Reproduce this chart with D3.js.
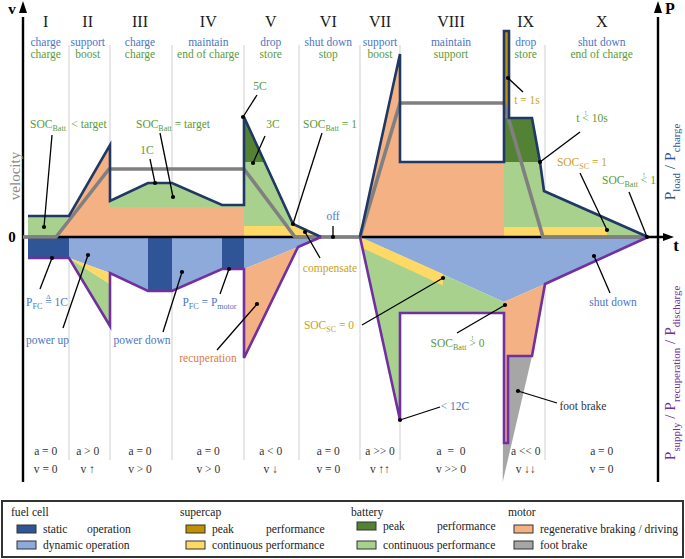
<!DOCTYPE html>
<html><head><meta charset="utf-8">
<script src="https://cdn.jsdelivr.net/npm/d3@7"></script>
<style>
html,body{margin:0;padding:0;background:#fff}
svg{display:block;font-family:"Liberation Serif","DejaVu Serif","Times New Roman",serif}
svg text{font-family:"Liberation Serif","DejaVu Serif","Times New Roman",serif}
</style>
</head><body>
<svg id="c" width="685" height="559" font-family="Liberation Serif, DejaVu Serif, serif"></svg>
<script>
// ---------------- data (time t, power p in arbitrary units) ----------------
const phases = ["I","II","III","IV","V","VI","VII","VIII","IX","X"];
const phaseCenter = [2.27,6.47,11.7,18.53,24.77,30.53,35.7,42.8,50.27,57.87];
const fuelCellMode = ["charge","support","charge","maintain","drop","shut down","support","maintain","drop","shut down"];
const storageMode = ["charge","boost","charge","end of charge","store","stop","boost","support","store","end of charge"];
const acceleration = ["a = 0","a > 0","a = 0","a = 0","a < 0","a = 0","a >> 0","a  =  0","a << 0","a = 0"];
const velocityState = ["v = 0","v \u2191","v > 0","v > 0","v \u2193","v = 0","v \u2191\u2191","v >> 0","v \u2193\u2193","v = 0"];
const phaseBounds = [4.6,8.7,14.9,22.1,27.6,33.7,37.7,52.2];

const velocity = [[0,0],[3.3,0],[8.6,6.8],[22.1,6.8],[27.2,0],[33.7,0],[37.7,13.4],[48.1,13.4],[52.0,0],[62.5,0]];
const loadLine1 = [[0.5,2.1],[4.6,2.1],[8.7,9.2],[8.7,3.6],[12.5,5.4],[14.9,5.4],[19.9,3.2],[22.1,3.2],[22.1,12.0],[27.0,1.3],[29.8,0]];
const loadLine2 = [[33.7,0],[37.7,18.3],[37.7,7.5],[48.1,7.5],[48.1,20.6],[48.6,20.6],[48.6,11.9],[50.9,11.9],[51.7,7.5],[52.1,4.6],[62.5,0]];
const supplyLine1 = [[0.5,-2.1],[4.6,-2.1],[8.7,-8.9],[8.7,-3.6],[12.5,-5.4],[14.9,-5.4],[19.9,-3.2],[22.1,-3.2],[22.1,-12.1],[27.5,-1.0],[29.8,0]];
const supplyLine2 = [[33.7,0],[37.7,-18.3],[37.7,-7.6],[48.1,-7.6],[48.1,-20.6],[48.5,-20.6],[48.5,-11.9],[50.9,-11.9],[52.2,-4.7],[62.5,0]];

const motorDriving = [
  [[3.3,0],[4.6,2.1],[8.7,9.2],[8.7,3.0],[22.1,3.0],[22.1,0]],
  [[33.7,0],[37.7,18.3],[37.7,7.5],[48.1,7.5],[48.1,0]]
];
const batteryContUpper = [
  [[0.5,0],[0.5,2.1],[4.6,2.1],[3.3,0]],
  [[8.7,3.0],[8.7,3.6],[12.5,5.4],[14.9,5.4],[19.9,3.2],[22.1,3.2],[22.1,3.0]],
  [[22.1,1.1],[22.1,7.5],[24.2,7.5],[27.0,1.3],[27.4,1.1]],
  [[48.1,1.0],[48.1,7.5],[51.7,7.5],[52.1,4.6],[62.5,0],[58.4,0],[58.4,1.0]]
];
const batteryPeakUpper = [
  [[22.1,7.5],[22.1,12.0],[24.2,7.5]],
  [[48.1,7.5],[48.1,11.9],[50.9,11.9],[51.7,7.5]]
];
const supercapContUpper = [
  [[22.1,0],[22.1,1.1],[27.4,1.1],[29.8,0]],
  [[48.1,0],[48.1,1.0],[58.4,1.0],[58.4,0]]
];
const supercapPeakUpper = [
  [[48.1,11.9],[48.1,20.6],[48.6,20.6],[48.6,11.9]]
];
const fuelDynamic = [
  [[4.6,0],[29.8,0],[27.5,-1.0],[22.1,-3.2],[19.9,-3.2],[14.9,-5.4],[12.5,-5.4],[8.7,-3.6],[4.6,-2.1]],
  [[33.7,0],[62.5,0],[52.2,-4.7],[48.1,-6.5]]
];
const fuelStatic = [
  [[0.5,0],[4.6,0],[4.6,-2.1],[0.5,-2.1]],
  [[12.5,0],[14.9,0],[14.9,-5.4],[12.5,-5.4]],
  [[19.9,0],[22.1,0],[22.1,-3.2],[19.9,-3.2]]
];
const batteryContLower = [
  [[4.6,-2.1],[8.7,-4.7],[8.7,-8.9]],
  [[33.7,0],[48.1,-6.5],[48.1,-7.6],[37.7,-7.6],[37.7,-18.3]]
];
const supercapContLower = [
  [[4.6,-2.1],[8.7,-3.6],[8.7,-4.7]],
  [[33.7,0],[42.0,-3.7],[42.0,-4.85],[33.95,-1.1]]
];
const footBrake = [
  [[48.5,-11.9],[50.9,-11.9],[47.97,-24.5],[48.0,-20.6],[48.5,-20.6]]
];
const motorRegen = [
  [[22.1,-3.2],[22.1,-12.1],[27.5,-1.0]],
  [[48.1,-6.5],[52.2,-4.7],[50.9,-11.9],[48.5,-11.9],[48.5,-20.6],[48.1,-20.6]]
];

const C = {
  fuelStatic:"#2f5597", fuelDynamic:"#8eaadb", scPeak:"#bf9000", scCont:"#ffd966",
  battPeak:"#548235", battCont:"#a9d18e", motor:"#f4b183", brake:"#a6a6a6",
  navy:"#1f3864", purple:"#7030a0", gray:"#808080",
  tBlue:"#4a76c6", tGreen:"#5b9a3a", tGold:"#c9a227", tOrange:"#e07b3c", tDark:"#333"
};

const notes = [
  {text:"SOC_{Batt}", color:C.tGreen, at:[2.5,11.3], from:[2.9,10.2], to:[2.1,1.0]},
  {text:"< target", color:C.tGreen, at:[6.6,11.3]},
  {text:"SOC_{Batt} = target", color:C.tGreen, at:[15.0,11.3], from:[13.7,10.4], to:[15.0,4.0]},
  {text:"1C", color:C.tGreen, at:[12.4,8.7], from:[12.7,7.8], to:[13.2,5.4]},
  {text:"5C", color:C.tGreen, at:[23.7,15.1], from:[23.4,14.2], to:[22.0,12.0]},
  {text:"3C", color:C.tGreen, at:[25.0,11.3], from:[24.2,10.1], to:[23.0,7.4]},
  {text:"SOC_{Batt} = 1", color:C.tGreen, at:[30.7,11.3], from:[29.9,10.4], to:[27.0,1.3]},
  {text:"off", color:C.tBlue, at:[31.0,2.1], from:[31.0,1.1], to:[31.0,0]},
  {text:"compensate", color:C.tGold, at:[30.7,-3.1], from:[29.7,-2.1], to:[28.2,0.5]},
  {text:"t = 1s", color:C.tGold, at:[50.4,13.7], from:[50.0,14.5], to:[48.5,15.9]},
  {text:"t [<|!] 10s", color:C.tGreen, at:[56.9,11.9], from:[55.7,10.5], to:[51.7,7.5]},
  {text:"SOC_{SC} = 1", color:C.tGold, at:[55.9,7.5], from:[55.7,6.4], to:[58.4,0.7]},
  {text:"SOC_{Batt} [<|!] 1", color:C.tGreen, at:[60.6,5.7], from:[60.6,4.5], to:[62.4,0]},
  {text:"P_{FC} [=|\u0394] 1C", color:C.tBlue, at:[2.4,-6.5], from:[1.7,-5.2], to:[2.9,-2.1]},
  {text:"power up", color:C.tBlue, at:[2.45,-10.3], from:[4.0,-9.1], to:[6.5,-1.8]},
  {text:"power down", color:C.tBlue, at:[11.9,-10.3], from:[14.0,-9.5], to:[15.9,-3.5]},
  {text:"P_{FC} = P_{motor}", color:C.tBlue, at:[18.65,-6.5], from:[19.7,-5.7], to:[20.6,-3.2]},
  {text:"recuperation", color:C.tOrange, at:[18.5,-12.1], from:[19.4,-11.3], to:[23.4,-6.7]},
  {text:"SOC_{SC} = 0", color:C.tGold, at:[30.6,-8.8], from:[33.9,-8.8], to:[42.0,-4.1]},
  {text:"SOC_{Batt} [>|!] 0", color:C.tGreen, at:[43.45,-10.6], from:[43.4,-9.6], to:[48.2,-6.8]},
  {text:"< 12C", color:C.tBlue, at:[43.2,-16.9], from:[41.7,-17.0], to:[37.7,-18.3]},
  {text:"shut down", color:C.tBlue, at:[59.0,-6.5], from:[58.7,-5.6], to:[57.1,-1.9]},
  {text:"foot brake", color:C.tDark, at:[56.0,-16.9], from:[53.4,-16.6], to:[49.5,-15.4]}
];

const legendGroups = ["fuel cell","supercap","battery","motor"];
const legendRow1 = [["static","operation"],["peak","performance"],["peak","performance"],["regenerative braking / driving"]];
const legendRow2 = ["dynamic operation","continuous performance","continuous performance","foot brake"];
const legendColors1 = [C.fuelStatic, C.scPeak, C.battPeak, C.motor];
const legendColors2 = [C.fuelDynamic, C.scCont, C.battCont, C.brake];

// ---------------- drawing ----------------
const FONT = "Liberation Serif, DejaVu Serif, serif";
const svg = d3.select("#c");
const x = d3.scaleLinear().domain([0,63.4]).range([23,657]);
const y = d3.scaleLinear().domain([-30,23]).range([537,7]);
const line = d3.line().x(d=>x(d[0])).y(d=>y(d[1]));

const meas = svg.append("text").attr("x",-100).attr("y",-100).attr("font-family",FONT);
function width(str, size){ meas.attr("font-size",size).text(str); return meas.node().getComputedTextLength(); }

// rich text: _{sub} for subscripts, [c|m] for character c with mark m above it
function rich(sel, str, size){
  sel.attr("font-family",FONT);
  const parts = str.split(/(_\{[^}]*\}|\[[^|\]]+\|[^\]]+\])/).filter(s=>s.length);
  let shift = 0, pdx = 0, pdy = 0;
  const add = (txt, fs, dy) => {
    const ts = sel.append("tspan").text(txt).attr("dy", dy + pdy);
    if (pdx) ts.attr("dx", pdx);
    if (fs) ts.attr("font-size", fs);
    pdx = 0; pdy = 0;
    return ts;
  };
  parts.forEach(p=>{
    if (p.startsWith("_{")) {
      const s = size*0.3;
      add(p.slice(2,-1), size*0.7, s-shift);
      shift = s;
    } else if (p.startsWith("[")) {
      const [c,m] = p.slice(1,-1).split("|");
      add(c, null, -shift); shift = 0;
      const ms = size*0.62, cw = width(c,size), mw = width(m,ms), up = size*0.62;
      pdx = -cw/2-mw/2;
      add(m, ms, -up);
      pdx = cw/2-mw/2; pdy = up;
    } else {
      add(p, null, -shift); shift = 0;
    }
  });
}

// phase separators
svg.append("g").selectAll("line").data(phaseBounds).join("line")
  .attr("x1",d=>x(d)).attr("x2",d=>x(d)).attr("y1",y(19.2)).attr("y2",y(-22.3))
  .attr("stroke","#dadada").attr("stroke-width",1.3);

// fills
const fills = [
  [motorDriving,C.motor],[batteryContUpper,C.battCont],[batteryPeakUpper,C.battPeak],
  [supercapContUpper,C.scCont],[supercapPeakUpper,C.scPeak],
  [fuelDynamic,C.fuelDynamic],[fuelStatic,C.fuelStatic],[batteryContLower,C.battCont],
  [supercapContLower,C.scCont],[footBrake,C.brake],[motorRegen,C.motor]
];
const gf = svg.append("g");
fills.forEach(([polys,col])=>{
  gf.append("g").selectAll("path").data(polys).join("path")
    .attr("d",d=>line(d)+"Z").attr("fill",col).attr("stroke","none");
});

// axes
const ga = svg.append("g");
ga.append("line").attr("x1",x(0)).attr("x2",x(64.5)).attr("y1",y(0)).attr("y2",y(0)).attr("stroke","#000").attr("stroke-width",2.4);
ga.append("line").attr("x1",x(0)).attr("x2",x(0)).attr("y1",y(-24.5)).attr("y2",y(22)).attr("stroke","#000").attr("stroke-width",2.4);
ga.append("line").attr("x1",x(63.5)).attr("x2",x(63.5)).attr("y1",y(-24.5)).attr("y2",y(22)).attr("stroke","#000").attr("stroke-width",2.4);
[[x(0),y(23.5)],[x(63.5),y(23.5)]].forEach(([px,py])=>{
  ga.append("path").attr("d",`M${px},${py-1}L${px-4},${py+11}L${px+4},${py+11}Z`).attr("fill","#000");
});
{
  const px = x(65.1), py = y(0);
  ga.append("path").attr("d",`M${px},${py}L${px-11},${py-4}L${px-11},${py+4}Z`).attr("fill","#000");
}

// velocity line
svg.append("path").attr("d",line(velocity)).attr("fill","none").attr("stroke",C.gray)
  .attr("stroke-width",3.6).attr("stroke-linejoin","round");

// load / supply outlines
[[loadLine1,C.navy],[loadLine2,C.navy],[supplyLine1,C.purple],[supplyLine2,C.purple]].forEach(([pts,col])=>{
  svg.append("path").attr("d",line(pts)).attr("fill","none").attr("stroke",col)
    .attr("stroke-width",2.6).attr("stroke-linejoin","miter");
});

// annotations
const gn = svg.append("g");
notes.forEach(n=>{
  if (n.from) {
    gn.append("line").attr("x1",x(n.from[0])).attr("y1",y(n.from[1])).attr("x2",x(n.to[0])).attr("y2",y(n.to[1]))
      .attr("stroke","#000").attr("stroke-width",1.3);
    gn.append("circle").attr("cx",x(n.to[0])).attr("cy",y(n.to[1])).attr("r",2.1).attr("fill","#000");
  }
  const t = gn.append("text").attr("x",x(n.at[0])).attr("y",y(n.at[1])+4)
    .attr("text-anchor","middle").attr("font-size",11.5).attr("fill",n.color);
  rich(t, n.text, 11.5);
});

// phase labels
const gl = svg.append("g").attr("text-anchor","middle").attr("font-family",FONT);
gl.selectAll("text.r").data(phases).join("text").attr("class","r")
  .attr("x",(d,i)=>x(phaseCenter[i])).attr("y",y(21.05)).attr("font-size",16).attr("fill","#1a1a1a").text(d=>d);
gl.selectAll("text.f").data(fuelCellMode).join("text").attr("class","f")
  .attr("x",(d,i)=>x(phaseCenter[i])).attr("y",y(19.15)).attr("font-size",11.5).attr("fill",C.tBlue).text(d=>d);
gl.selectAll("text.s").data(storageMode).join("text").attr("class","s")
  .attr("x",(d,i)=>x(phaseCenter[i])).attr("y",y(17.9)).attr("font-size",11.5).attr("fill",C.tGreen).text(d=>d);
gl.selectAll("text.a").data(acceleration).join("text").attr("class","a")
  .attr("x",(d,i)=>x(phaseCenter[i])).attr("y",y(-21.8)).attr("font-size",11.5).attr("fill",C.tDark)
  .style("white-space","pre").text(d=>d);
gl.selectAll("text.v").data(velocityState).join("text").attr("class","v")
  .attr("x",(d,i)=>x(phaseCenter[i])).attr("y",y(-23.6)).attr("font-size",11.5).attr("fill",C.tDark)
  .style("white-space","pre").text(d=>d);

// axis labels
const gt = svg.append("g").attr("font-family",FONT).attr("text-anchor","middle").attr("font-weight","bold");
gt.append("text").attr("x",12).attr("y",14).attr("font-size",15).text("v");
gt.append("text").attr("x",670).attr("y",14).attr("font-size",16).text("P");
gt.append("text").attr("x",676).attr("y",251).attr("font-size",17).text("t");
gt.append("text").attr("x",12).attr("y",y(0)+5).attr("font-size",15).text("0");
svg.append("text").attr("font-family",FONT).attr("transform","translate(15,176) rotate(-90)").attr("text-anchor","middle").attr("dy","0.35em")
  .attr("font-size",15).attr("fill","#8a8a8a").text("velocity");
{
  const t1 = svg.append("text").attr("transform","translate(675,162) rotate(-90)").attr("text-anchor","middle")
    .attr("font-size",15.5).attr("fill","#2f5597");
  rich(t1, "P_{load} / P_{charge}", 15.5);
  const t2 = svg.append("text").attr("transform","translate(675,373) rotate(-90)").attr("text-anchor","middle")
    .attr("font-size",15.5).attr("fill",C.purple);
  rich(t2, "P_{supply} / P_{recuperation} / P_{discharge}", 15.5);
}

// legend
const lg = svg.append("g").attr("font-family",FONT);
lg.append("rect").attr("x",2).attr("y",501).attr("width",681).attr("height",56)
  .attr("fill","#fff").attr("stroke","#333").attr("stroke-width",2);
const gx = [11,180,351,508], rowShift = [0,0,-3,0], secondOff = [44,54,54,0];
legendGroups.forEach((g,i)=>{
  lg.append("text").attr("x",gx[i]).attr("y",516).attr("font-size",11.6).attr("fill","#222").text(g);
  const r1 = 533 + rowShift[i];
  lg.append("rect").attr("x",gx[i]+6).attr("y",r1-8).attr("width",19).attr("height",8)
    .attr("fill",legendColors1[i]).attr("stroke","#333").attr("stroke-width",1);
  lg.append("text").attr("x",gx[i]+32).attr("y",r1).attr("font-size",11.6).attr("fill","#222").text(legendRow1[i][0]);
  if (legendRow1[i][1]) lg.append("text").attr("x",gx[i]+32+secondOff[i]).attr("y",r1).attr("font-size",11.6).attr("fill","#222").text(legendRow1[i][1]);
  const r2 = 549;
  lg.append("rect").attr("x",gx[i]+6).attr("y",r2-8).attr("width",19).attr("height",8)
    .attr("fill",legendColors2[i]).attr("stroke","#333").attr("stroke-width",1);
  lg.append("text").attr("x",gx[i]+32).attr("y",r2).attr("font-size",11.6).attr("fill","#222").text(legendRow2[i]);
});
meas.remove();
</script>
</body></html>
